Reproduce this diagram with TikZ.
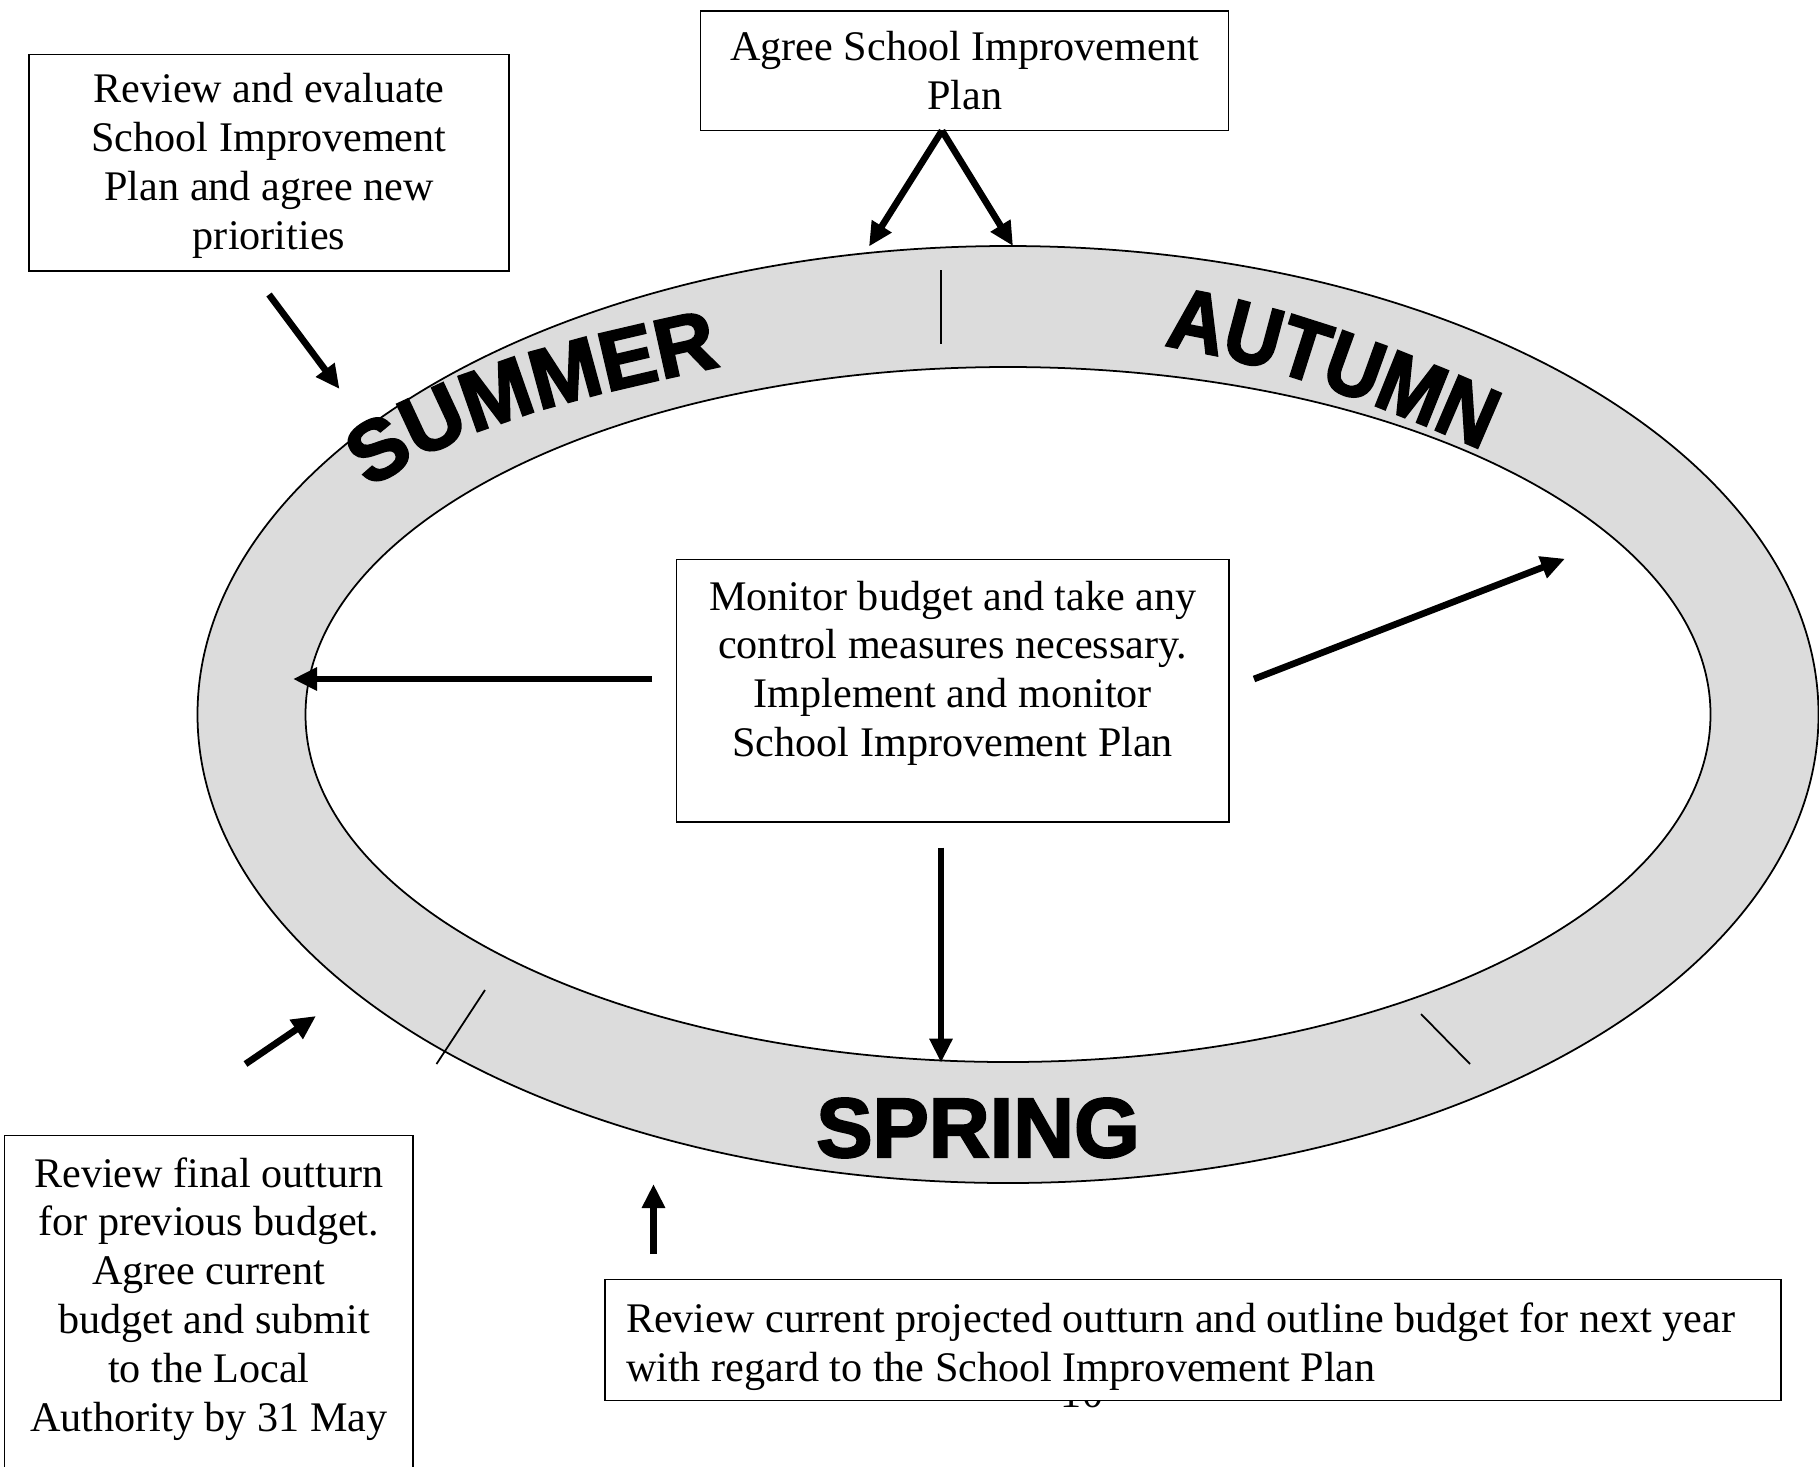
\documentclass[tikz,border=0pt]{standalone}
\usepackage{fontspec}
\setmainfont{Liberation Serif}
\newfontfamily\seasonfont{Liberation Sans}[BoldFeatures={FakeBold=2.5}]
\newfontfamily\arcfont{Liberation Sans}[BoldFeatures={FakeBold=2.5, FakeStretch=0.9}]
\usepackage{tikz}
\usetikzlibrary{arrows.meta, decorations.text}
\definecolor{ringgrey}{RGB}{220,220,220}
\newcommand{\seasontype}{\seasonfont\bfseries\fontsize{24}{24}\selectfont}
\newcommand{\arctype}{\arcfont\bfseries\fontsize{24.5}{24}\selectfont}
\tikzstyle{textbox} = [rectangle, draw=black, thin, fill=white, align=center, font=\fontsize{12}{13.9}\selectfont]
\tikzstyle{arrow} = [line width=1.9pt, -{Triangle[length=2.4mm, width=2.2mm]}]
\tikzstyle{divider} = [line width=0.5pt]

\begin{document}
\begin{tikzpicture}
    \clip (0,0) rectangle (18.19,-14.66);

    % Ring of the year
    \coordinate (ctr) at (10.08,-7.145);
    \filldraw[fill=ringgrey, draw=black, line width=0.5pt, even odd rule]
        (ctr) ellipse [x radius=8.105, y radius=4.685]
        (ctr) ellipse [x radius=7.025, y radius=3.475];

    % Term dividers
    \draw[divider] (9.41,-2.70) -- (9.41,-3.44);
    \draw[divider] (4.85,-9.90) -- (4.365,-10.64);
    \draw[divider] (14.21,-10.14) -- (14.70,-10.64);

    % Terms
    \path[decorate, decoration={text along path, text={|\seasontype|SUMMER}, text align=center}]
        (3.62,-4.95) .. controls (4.66,-4.17) and (6.03,-3.93) .. (7.30,-3.64);
    \path[decorate, decoration={text along path, text={|\arctype|AUTUMN}, text align=center}]
        (11.45,-3.43) .. controls (12.64,-3.58) and (13.90,-4.09) .. (15.00,-4.58);
    \node (spring) at (9.78,-11.57) [anchor=base, font=\seasontype] {SPRING};

    % Tasks
    \node[textbox, minimum width=5.283cm, minimum height=1.197cm] (agree) at (9.646,-0.708) {Agree School Improvement\\Plan};
    \node[textbox, minimum width=4.80cm, minimum height=2.165cm] (review) at (2.69,-1.6275) {\rule{0pt}{0.35cm}Review and evaluate\\School Improvement\\Plan and agree new\\priorities};
    \node[textbox, minimum width=5.521cm, anchor=north] (monitor) at (9.5275,-5.587) {\rule{0pt}{0.39cm}Monitor budget and take any\\control measures necessary.\\Implement and monitor\\School Improvement Plan\\[-0.1cm] \strut};
    \node[textbox, minimum width=4.084cm, anchor=north, inner ysep=0.22cm] (final) at (2.088,-11.346) {Review final outturn\\for previous budget.\\Agree current\\\ budget and submit\\to the Local\\Authority by 31 May\\ \strut\\ \strut};
    \node (pagenum) at (10.82,-14.07) [anchor=base, font=\fontsize{12}{13.9}\selectfont] {10};
    \node[textbox, minimum width=11.76cm, text width=11.34cm, align=flush left, inner xsep=0.21cm, inner ysep=0.1cm, anchor=north] (plan) at (11.93,-12.79) {\rule{0pt}{0.43cm}Review current projected outturn and outline budget for next year\\with regard to the School Improvement Plan};

    % Arrow ends
    \coordinate (apex) at (9.42,-1.307);
    \coordinate (summerin) at (8.69,-2.465);
    \coordinate (autumnin) at (10.13,-2.46);
    \coordinate (reviewout) at (2.69,-2.945);
    \coordinate (reviewtip) at (3.395,-3.89);
    \coordinate (monleft) at (6.52,-6.79);
    \coordinate (lefttip) at (2.93,-6.79);
    \coordinate (monright) at (12.54,-6.79);
    \coordinate (righttip) at (15.65,-5.587);
    \coordinate (mondown) at (9.41,-8.475);
    \coordinate (downtip) at (9.41,-10.626);
    \coordinate (finalout) at (2.455,-10.64);
    \coordinate (finaltip) at (3.16,-10.16);
    \coordinate (planout) at (6.535,-12.54);
    \coordinate (uptip) at (6.535,-11.84);

    % Arrows
    \draw[arrow] (apex) -- (summerin);
    \draw[arrow] (apex) -- (autumnin);
    \draw[arrow] (reviewout) -- (reviewtip);
    \draw[arrow] (monleft) -- (lefttip);
    \draw[arrow] (monright) -- (righttip);
    \draw[arrow] (mondown) -- (downtip);
    \draw[arrow] (finalout) -- (finaltip);
    \draw[arrow] (planout) -- (uptip);
\end{tikzpicture}
\end{document}
